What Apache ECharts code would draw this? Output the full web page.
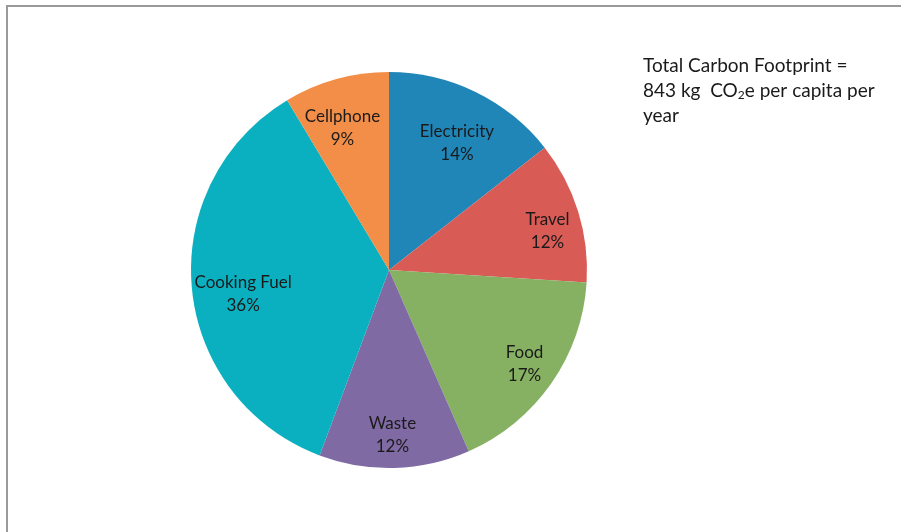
<!DOCTYPE html>
<html>
<head>
<meta charset="utf-8">
<script src="https://cdn.jsdelivr.net/npm/echarts@6/dist/echarts.min.js"></script>
<style>
html,body{margin:0;padding:0;background:#fff;}
#chart{width:901px;height:532px;}
</style>
</head>
<body>
<div id="chart"></div>
<script>
var categories = ['Electricity', 'Travel', 'Food', 'Waste', 'Cooking Fuel', 'Cellphone'];
var values = [14.4, 11.6, 17.4, 12.3, 35.7, 8.6];
var colors = ['#2086B8', '#D95B55', '#86B062', '#7F6AA3', '#0BB0C0', '#F38E48'];
// small label nudges (style only)
var labelNudge = [[0, 8], [10, 2], [8, 0], [-1, 5], [9, 5], [-5, 3]];

var FONT = 'Lato, "Open Sans", sans-serif';
var data = categories.map(function (c, i) {
  return { name: c, value: values[i], itemStyle: { color: colors[i] } };
});
var total = values.reduce(function (a, b) { return a + b; }, 0);

var chart = echarts.init(document.getElementById('chart'), null, { renderer: 'canvas' });
chart.setOption({
  backgroundColor: '#fff',
  animation: false,
  graphic: [
    { type: 'line', shape: { x1: 6, y1: 6, x2: 901, y2: 6 }, style: { stroke: '#9a9a9a', lineWidth: 2 } },
    { type: 'line', shape: { x1: 7, y1: 5, x2: 7, y2: 532 }, style: { stroke: '#9a9a9a', lineWidth: 2 } },
    {
      type: 'text', left: 643, top: 53,
      style: {
        text: 'Total Carbon Footprint =\n{n|843 kg  CO}{s|2}{n|e per capita per}\nyear',
        font: '19px ' + FONT, fill: '#1a1a1a', lineHeight: 25,
        rich: {
          n: { fontSize: 19, fontFamily: FONT, fill: '#1a1a1a', lineHeight: 25 },
          s: { fontSize: 12, fontFamily: FONT, fill: '#1a1a1a', padding: [9, 0, 0, 0], lineHeight: 25 }
        }
      }
    }
  ],
  series: [
    {
      type: 'pie',
      center: [389, 270],
      radius: [0, 198],
      startAngle: 90,
      clockwise: true,
      silent: true,
      label: { show: false },
      labelLine: { show: false },
      itemStyle: { borderWidth: 0 },
      data: data
    },
    {
      type: 'pie',
      center: [389, 275],
      radius: [106, 199],
      startAngle: 90,
      clockwise: true,
      silent: true,
      itemStyle: { color: 'rgba(0,0,0,0)', borderWidth: 0 },
      label: {
        show: true, position: 'inside',
        fontFamily: FONT, fontSize: 17, color: '#1a1a1a', lineHeight: 23,
        formatter: function (p) { return p.name + '\n' + Math.round(p.value / total * 100) + '%'; }
      },
      labelLayout: function (p) {
        var n = labelNudge[p.dataIndex];
        return { dx: n[0], dy: n[1] };
      },
      labelLine: { show: false },
      data: data.map(function (d) { return { name: d.name, value: d.value }; })
    }
  ]
});
</script>
</body>
</html>
